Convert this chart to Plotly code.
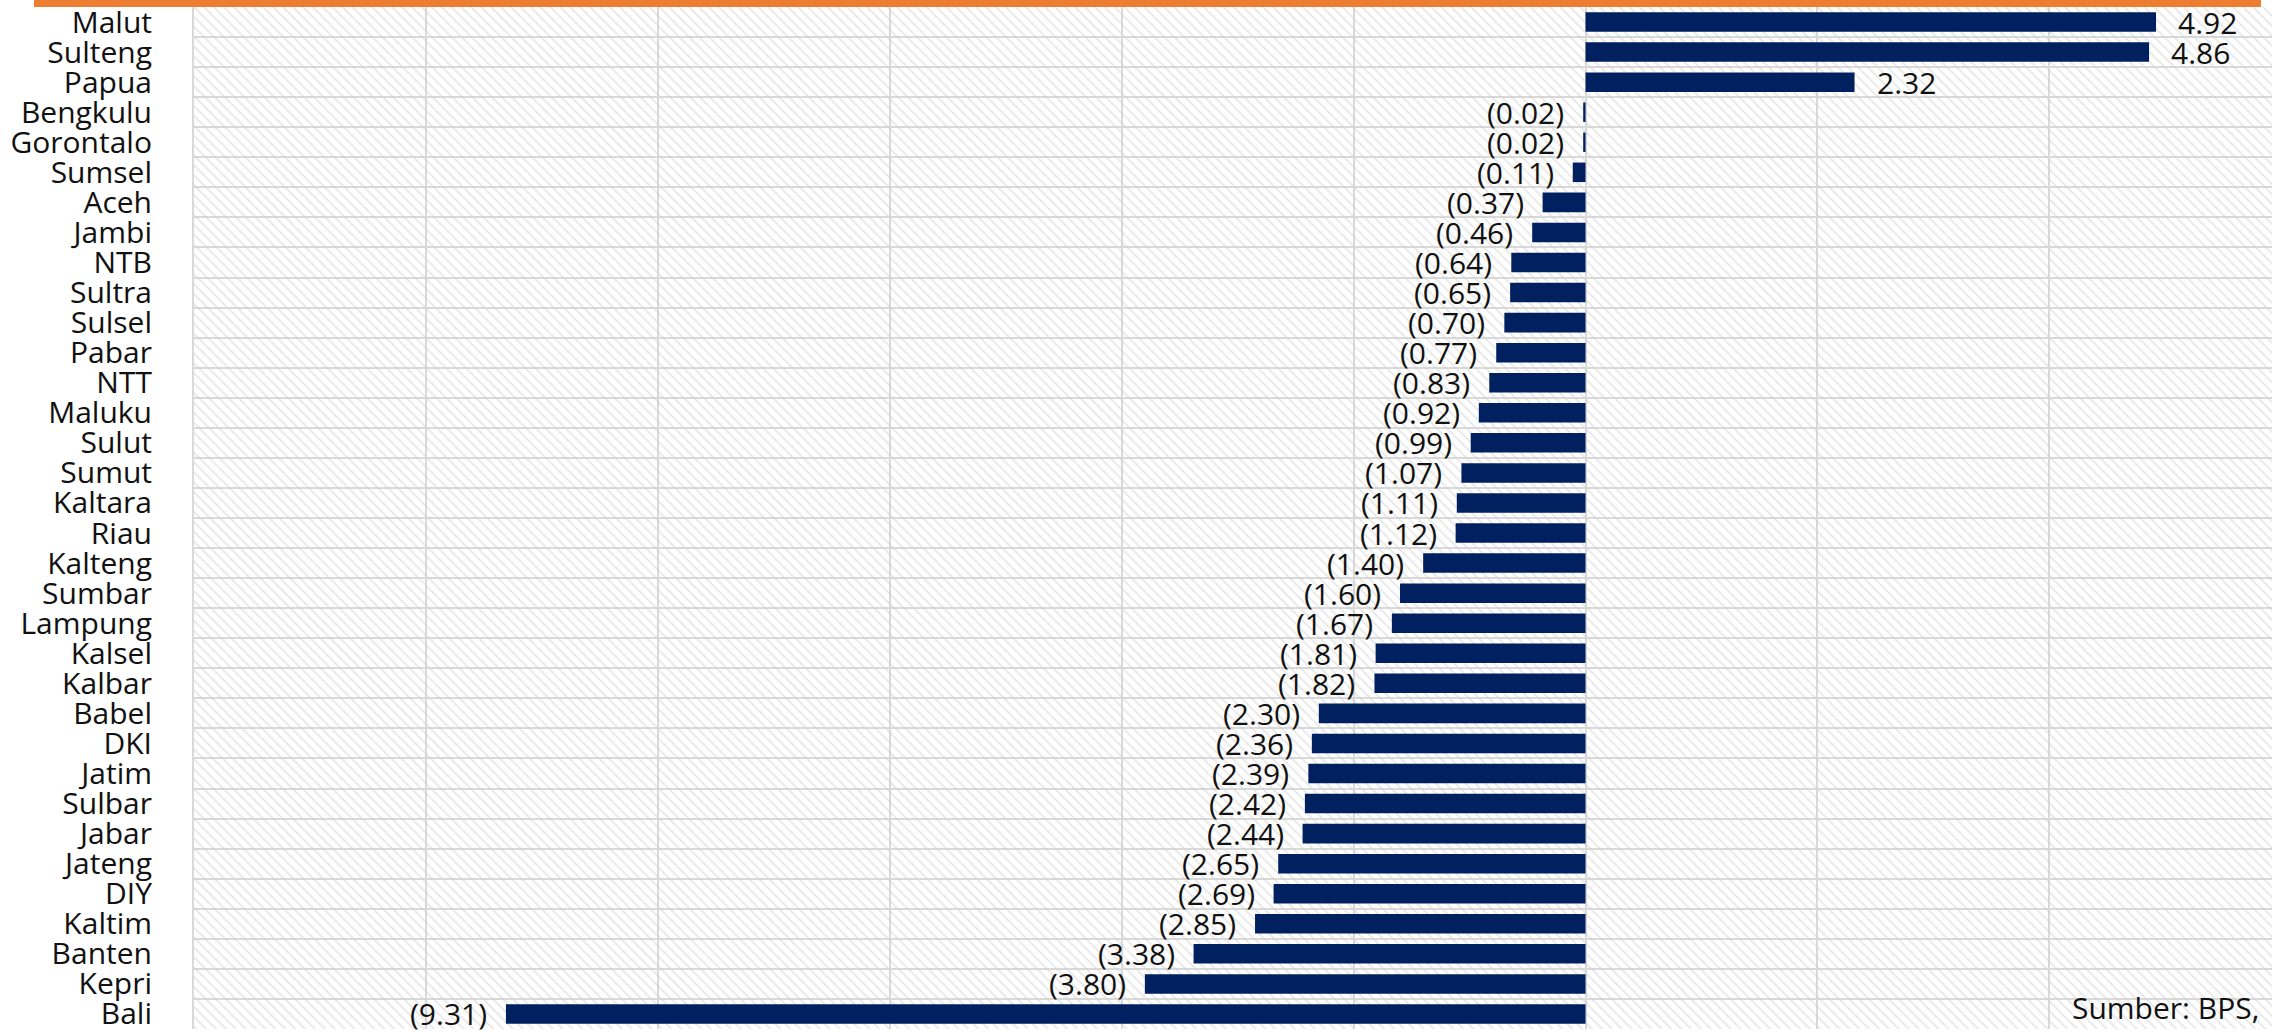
import plotly.graph_objects as go

provinces = ["Malut", "Sulteng", "Papua", "Bengkulu", "Gorontalo", "Sumsel", "Aceh", "Jambi",
             "NTB", "Sultra", "Sulsel", "Pabar", "NTT", "Maluku", "Sulut", "Sumut", "Kaltara",
             "Riau", "Kalteng", "Sumbar", "Lampung", "Kalsel", "Kalbar", "Babel", "DKI", "Jatim",
             "Sulbar", "Jabar", "Jateng", "DIY", "Kaltim", "Banten", "Kepri", "Bali"]
values = [4.92, 4.86, 2.32, -0.02, -0.02, -0.11, -0.37, -0.46,
          -0.64, -0.65, -0.70, -0.77, -0.83, -0.92, -0.99, -1.07, -1.11,
          -1.12, -1.40, -1.60, -1.67, -1.81, -1.82, -2.30, -2.36, -2.39,
          -2.42, -2.44, -2.65, -2.69, -2.85, -3.38, -3.80, -9.31]
source_note = "Sumber: BPS,"

X_MIN, X_MAX = -12, 5.92
labels = [f"({abs(v):.2f})" if v < 0 else f"{v:.2f}" for v in values]
FONT = "Open Sans"
FS = 30
TXT = "#111111"

fig = go.Figure()
# hatched plot-area background
fig.add_trace(go.Bar(
    y=provinces, x=[X_MAX - X_MIN] * len(provinces), base=X_MIN, orientation="h",
    width=1, marker=dict(color="rgba(0,0,0,0)", line=dict(width=0),
                         pattern=dict(shape="\\", fgcolor="#cfcfcf", bgcolor="rgba(0,0,0,0)",
                                      size=7, solidity=0.25, fillmode="overlay")),
    hoverinfo="skip", showlegend=False))
fig.add_trace(go.Bar(
    y=provinces, x=values, orientation="h", width=0.65,
    marker=dict(color="#002060", line=dict(width=0)),
    hoverinfo="skip", showlegend=False))

annotations = []
for p, v, t in zip(provinces, values, labels):
    annotations.append(dict(
        x=v, y=p, xref="x", yref="y", text=t, showarrow=False,
        xanchor="left" if v >= 0 else "right", yanchor="middle",
        xshift=21 if v >= 0 else -18, borderpad=0,
        font=dict(family=FONT, size=FS, color=TXT)))
annotations.append(dict(text=source_note, xref="paper", yref="paper", x=0.9942, y=0.0,
                        xanchor="right", yanchor="bottom", showarrow=False, borderpad=0,
                        font=dict(family=FONT, size=FS, color=TXT)))

fig.update_layout(
    width=2272, height=1032, barmode="overlay",
    margin=dict(l=194, r=0, t=7, b=3, autoexpand=False),
    paper_bgcolor="white", plot_bgcolor="white",
    font=dict(family=FONT, size=FS, color=TXT),
    xaxis=dict(range=[X_MIN, X_MAX], dtick=2, tick0=0, showgrid=True, gridcolor="#d9d9d9",
               gridwidth=2, zeroline=False, showticklabels=False, showline=False,
               fixedrange=True, automargin=False),
    yaxis=dict(range=[len(provinces) - 0.5, -0.5], tickson="boundaries", showgrid=True,
               gridcolor="#d9d9d9", gridwidth=2, ticks="", ticklabelstandoff=34,
               tickmode="array", tickvals=provinces, ticktext=provinces,
               tickfont=dict(family=FONT, size=FS, color=TXT), automargin=False,
               showline=True, linecolor="#d9d9d9", linewidth=2, mirror=False, fixedrange=True),
    shapes=[dict(type="rect", xref="paper", yref="paper", x0=-0.077, x1=0.9947,
                 ysizemode="pixel", yanchor=1, y0=0, y1=7,
                 fillcolor="#ED7D31", line=dict(width=0), layer="above")],
    annotations=annotations,
)

fig.write_html("out.html", config={"displayModeBar": False},
               post_script="document.body.style.margin='0';document.body.style.overflow='hidden';")
